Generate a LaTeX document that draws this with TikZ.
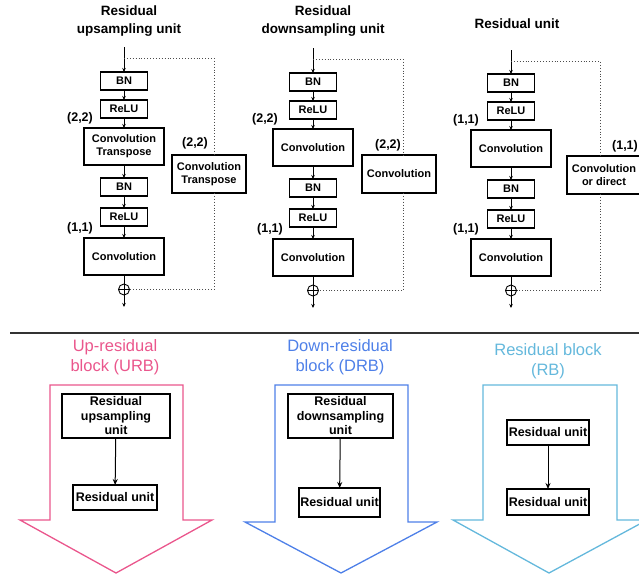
\documentclass[tikz,border=0pt]{standalone}
\usepackage{fontspec}
\setmainfont{Liberation Sans}
\usetikzlibrary{positioning,arrows.meta}
\definecolor{urbpink}{RGB}{234,86,140}
\definecolor{drbblue}{RGB}{78,128,232}
\definecolor{rbcyan}{RGB}{100,184,220}
\tikzset{%
smallbox/.style={draw,line width=1.3pt,minimum width=47pt,minimum height=18pt,inner sep=0pt,outer sep=0pt,align=center,font=\fontsize{11}{13}\selectfont\bfseries},
bigbox/.style={smallbox,minimum width=80pt,minimum height=37pt},
skipbox/.style={smallbox,minimum width=74pt,minimum height=38pt},
sumnode/.style={draw,circle,line width=0.9pt,minimum size=11pt,inner sep=0pt,outer sep=0pt},
kernel/.style={font=\fontsize{12.5}{13}\selectfont\bfseries,inner sep=1pt},
unittitle/.style={font=\fontsize{13.5}{18}\selectfont\bfseries,align=center},
blocktitle/.style={font=\fontsize{16.5}{20}\selectfont,align=center},
blockarrow/.style={line width=1.3pt,line join=miter},
blockbox/.style={draw,line width=1.8pt,inner sep=0pt,outer sep=0pt,align=center,font=\fontsize{12.5}{14.5}\selectfont\bfseries},
flow/.style={-{Stealth[length=4pt,width=3.5pt]},line width=0.8pt},
blockflow/.style={-{Stealth[length=6pt,width=5pt]},line width=1pt},
shortcut/.style={dotted,line width=0.9pt,black!70}
}

\begin{document}
\begin{tikzpicture}[x=1pt,y=-1pt]
  \useasboundingbox (0,0) rectangle (639,576);

  % residual upsampling unit
  \node[unittitle] (titleU) at (129,21) {Residual\\upsampling unit};
  \node[smallbox] (bnU1) at (124,81) {BN};
  \node[smallbox] (reluU1) [below=10pt of bnU1] {ReLU};
  \node[bigbox] (convU1) [below=10pt of reluU1] {Convolution\\Transpose};
  \node[smallbox] (bnU2) [below=13pt of convU1] {BN};
  \node[smallbox] (reluU2) [below=12pt of bnU2] {ReLU};
  \node[bigbox] (convU2) [below=12pt of reluU2] {Convolution};
  \node[sumnode] (sumU) [below=9pt of convU2] {};
  \coordinate[above=25pt of bnU1] (inU);
  \coordinate[above=14pt of bnU1] (forkU);
  \coordinate[below=12pt of sumU] (outU);
  \coordinate (laneU) at (214,0);
  \node[skipbox] (skipU) at (209,174) {Convolution\\Transpose};
  \node[kernel,above=3pt of convU1.north west,xshift=-4pt] {(2,2)};
  \node[kernel,above=3pt of convU2.north west,xshift=-4pt] {(1,1)};
  \node[kernel] (kskipU) at (195,143) {(2,2)};

  \path[flow] (inU) edge (bnU1)
              (bnU1) edge (reluU1)
              (reluU1) edge (convU1)
              (convU1) edge (bnU2)
              (bnU2) edge (reluU2)
              (reluU2) edge (convU2)
              (sumU) edge (outU);
  \draw[line width=0.8pt] (convU2) -- (sumU)
        (sumU.north) -- (sumU.south) (sumU.west) -- (sumU.east);
  \draw[shortcut] (forkU) -| (laneU |- skipU.north);
  \draw[shortcut] (laneU |- skipU.south) |- (sumU.east);

  % residual downsampling unit
  \node[unittitle] (titleD) at (323,21) {Residual\\downsampling unit};
  \node[smallbox] (bnD1) at (313,82) {BN};
  \node[smallbox] (reluD1) [below=10pt of bnD1] {ReLU};
  \node[bigbox] (convD1) [below=10pt of reluD1] {Convolution};
  \node[smallbox] (bnD2) [below=13pt of convD1] {BN};
  \node[smallbox] (reluD2) [below=12pt of bnD2] {ReLU};
  \node[bigbox] (convD2) [below=12pt of reluD2] {Convolution};
  \node[sumnode] (sumD) [below=9pt of convD2] {};
  \coordinate[above=25pt of bnD1] (inD);
  \coordinate[above=14pt of bnD1] (forkD);
  \coordinate[below=12pt of sumD] (outD);
  \coordinate (laneD) at (403,0);
  \node[skipbox] (skipD) at (399,174) {Convolution};
  \node[kernel,above=3pt of convD1.north west,xshift=-8pt] {(2,2)};
  \node[kernel,above=3pt of convD2.north west,xshift=-3pt] {(1,1)};
  \node[kernel] (kskipD) at (388,145) {(2,2)};

  \path[flow] (inD) edge (bnD1)
              (bnD1) edge (reluD1)
              (reluD1) edge (convD1)
              (convD1) edge (bnD2)
              (bnD2) edge (reluD2)
              (reluD2) edge (convD2)
              (sumD) edge (outD);
  \draw[line width=0.8pt] (convD2) -- (sumD)
        (sumD.north) -- (sumD.south) (sumD.west) -- (sumD.east);
  \draw[shortcut] (forkD) -| (laneD |- skipD.north);
  \draw[shortcut] (laneD |- skipD.south) |- (sumD.east);

  % residual unit
  \node[unittitle] (titleR) at (517,24) {Residual unit};
  \node[smallbox] (bnR1) at (511,83) {BN};
  \node[smallbox] (reluR1) [below=10pt of bnR1] {ReLU};
  \node[bigbox] (convR1) [below=10pt of reluR1] {Convolution};
  \node[smallbox] (bnR2) [below=13pt of convR1] {BN};
  \node[smallbox] (reluR2) [below=12pt of bnR2] {ReLU};
  \node[bigbox] (convR2) [below=11pt of reluR2] {Convolution};
  \node[sumnode] (sumR) [below=9pt of convR2] {};
  \coordinate[above=24pt of bnR1] (inR);
  \coordinate[above=13pt of bnR1] (forkR);
  \coordinate[below=12pt of sumR] (outR);
  \coordinate (laneR) at (600,0);
  \node[skipbox] (skipR) at (604,175) {Convolution\\or direct};
  \node[kernel,above=3pt of convR1.north west,xshift=-5pt] {(1,1)};
  \node[kernel,above=3pt of convR2.north west,xshift=-5pt] {(1,1)};
  \node[kernel] (kskipR) at (625,146) {(1,1)};

  \path[flow] (inR) edge (bnR1)
              (bnR1) edge (reluR1)
              (reluR1) edge (convR1)
              (convR1) edge (bnR2)
              (bnR2) edge (reluR2)
              (reluR2) edge (convR2)
              (sumR) edge (outR);
  \draw[line width=0.8pt] (convR2) -- (sumR)
        (sumR.north) -- (sumR.south) (sumR.west) -- (sumR.east);
  \draw[shortcut] (forkR) -| (laneR |- skipR.north);
  \draw[shortcut] (laneR |- skipR.south) |- (sumR.east);

  % separator
  \coordinate (ruleL) at (10,333);
  \coordinate (ruleR) at (639,333);
  \draw[line width=1.5pt,black!80] (ruleL) -- (ruleR);

  % up-residual block
  \draw[blockarrow,urbpink] (50,385) -- (183,385) -- (183,520) -- (212,520)
        -- (116,573) -- (20,520) -- (50,520) -- cycle;
  \node[blocktitle,text=urbpink] (titleURB) at (115,357.5) {Up-residual\\block (URB)};
  \node[blockbox,minimum width=108pt,minimum height=44pt] (urbUnit) at (116,416) {Residual\\upsampling\\unit};
  \node[blockbox,minimum width=84pt,minimum height=25pt] (urbRes) at (115,497.5) {Residual unit};
  \draw[blockflow] (urbUnit) -- (urbRes);

  % down-residual block
  \draw[blockarrow,drbblue] (275,385) -- (408,385) -- (408,522) -- (437,522)
        -- (341,573) -- (245,522) -- (275,522) -- cycle;
  \node[blocktitle,text=drbblue] (titleDRB) at (340,357.5) {Down-residual\\block (DRB)};
  \node[blockbox,minimum width=105pt,minimum height=44pt] (drbUnit) at (340.5,416) {Residual\\downsampling\\unit};
  \node[blockbox,minimum width=81pt,minimum height=29pt] (drbRes) at (339.5,502.5) {Residual unit};
  \draw[blockflow] (drbUnit) -- (drbRes);

  % residual block
  \draw[blockarrow,rbcyan] (483,385) -- (617,385) -- (617,520) -- (647,520)
        -- (549,573) -- (453,520) -- (483,520) -- cycle;
  \node[blocktitle,text=rbcyan] (titleRB) at (548,361) {Residual block\\(RB)};
  \node[blockbox,minimum width=82pt,minimum height=25pt] (rbRes1) at (548,432.5) {Residual unit};
  \node[blockbox,minimum width=82pt,minimum height=26pt] (rbRes2) at (548,502) {Residual unit};
  \draw[blockflow] (rbRes1) -- (rbRes2);
\end{tikzpicture}
\end{document}
